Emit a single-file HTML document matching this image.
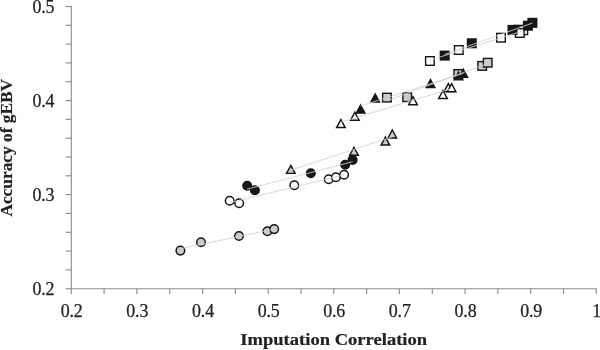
<!DOCTYPE html>
<html lang="en"><head><meta charset="utf-8"><title>Accuracy of gEBV vs Imputation Correlation</title>
<style>
html,body{margin:0;padding:0;background:#fff;}
body{width:600px;height:350px;overflow:hidden;}
svg{display:block;font-family:"Liberation Serif","DejaVu Serif",serif;}
.tick text{font-size:17.9px;letter-spacing:-0.15px;fill:#222;stroke:#222;stroke-width:0.25px;}
.title{font-size:16.1px;font-weight:bold;fill:#222;stroke:#222;stroke-width:0.2px;}
</style></head><body>
<svg width="600" height="350" viewBox="0 0 600 350">
<rect width="600" height="350" fill="#fff"/>
<g stroke="#8c8e93" stroke-width="1.15" fill="none">
<line x1="71.3" y1="5.9" x2="71.3" y2="288.7"/>
<line x1="71.3" y1="288.7" x2="596.8" y2="288.7"/>
<line x1="65.7" y1="288.7" x2="71.3" y2="288.7"/>
<line x1="65.7" y1="269.9" x2="71.3" y2="269.9"/>
<line x1="65.7" y1="251.1" x2="71.3" y2="251.1"/>
<line x1="65.7" y1="232.3" x2="71.3" y2="232.3"/>
<line x1="65.7" y1="213.4" x2="71.3" y2="213.4"/>
<line x1="65.7" y1="194.6" x2="71.3" y2="194.6"/>
<line x1="65.7" y1="175.8" x2="71.3" y2="175.8"/>
<line x1="65.7" y1="157.0" x2="71.3" y2="157.0"/>
<line x1="65.7" y1="138.2" x2="71.3" y2="138.2"/>
<line x1="65.7" y1="119.4" x2="71.3" y2="119.4"/>
<line x1="65.7" y1="100.6" x2="71.3" y2="100.6"/>
<line x1="65.7" y1="81.7" x2="71.3" y2="81.7"/>
<line x1="65.7" y1="62.9" x2="71.3" y2="62.9"/>
<line x1="65.7" y1="44.1" x2="71.3" y2="44.1"/>
<line x1="65.7" y1="25.3" x2="71.3" y2="25.3"/>
<line x1="65.7" y1="6.5" x2="71.3" y2="6.5"/>
<line x1="71.3" y1="288.7" x2="71.3" y2="294.0"/>
<line x1="104.1" y1="288.7" x2="104.1" y2="294.0"/>
<line x1="136.9" y1="288.7" x2="136.9" y2="294.0"/>
<line x1="169.7" y1="288.7" x2="169.7" y2="294.0"/>
<line x1="202.6" y1="288.7" x2="202.6" y2="294.0"/>
<line x1="235.4" y1="288.7" x2="235.4" y2="294.0"/>
<line x1="268.2" y1="288.7" x2="268.2" y2="294.0"/>
<line x1="301.0" y1="288.7" x2="301.0" y2="294.0"/>
<line x1="333.8" y1="288.7" x2="333.8" y2="294.0"/>
<line x1="366.6" y1="288.7" x2="366.6" y2="294.0"/>
<line x1="399.4" y1="288.7" x2="399.4" y2="294.0"/>
<line x1="432.3" y1="288.7" x2="432.3" y2="294.0"/>
<line x1="465.1" y1="288.7" x2="465.1" y2="294.0"/>
<line x1="497.9" y1="288.7" x2="497.9" y2="294.0"/>
<line x1="530.7" y1="288.7" x2="530.7" y2="294.0"/>
<line x1="563.5" y1="288.7" x2="563.5" y2="294.0"/>
<line x1="596.3" y1="288.7" x2="596.3" y2="294.0"/>
</g>
<g class="tick">
<text x="54.3" y="295.0" text-anchor="end">0.2</text>
<text x="54.3" y="200.9" text-anchor="end">0.3</text>
<text x="54.3" y="106.9" text-anchor="end">0.4</text>
<text x="54.3" y="12.8" text-anchor="end">0.5</text>
<text x="71.7" y="316.9" text-anchor="middle">0.2</text>
<text x="137.3" y="316.9" text-anchor="middle">0.3</text>
<text x="203.0" y="316.9" text-anchor="middle">0.4</text>
<text x="268.6" y="316.9" text-anchor="middle">0.5</text>
<text x="334.2" y="316.9" text-anchor="middle">0.6</text>
<text x="399.8" y="316.9" text-anchor="middle">0.7</text>
<text x="465.5" y="316.9" text-anchor="middle">0.8</text>
<text x="531.1" y="316.9" text-anchor="middle">0.9</text>
<text x="596.7" y="316.9" text-anchor="middle">1</text>
</g>
<text class="title" x="240.3" y="345.2" textLength="186.8" lengthAdjust="spacingAndGlyphs">Imputation Correlation</text>
<text class="title" transform="translate(12.4,216.6) rotate(-90)" textLength="137.7" lengthAdjust="spacingAndGlyphs">Accuracy of gEBV</text>
<rect x="382.6" y="93.3" width="8.6" height="8.6" fill="#cbcbcc" stroke="#151515" stroke-width="1.4"/>
<rect x="402.9" y="92.9" width="8.6" height="8.6" fill="#cbcbcc" stroke="#151515" stroke-width="1.4"/>
<rect x="454.0" y="69.7" width="8.6" height="8.6" fill="#cbcbcc" stroke="#151515" stroke-width="1.4"/>
<rect x="477.9" y="61.6" width="8.6" height="8.6" fill="#cbcbcc" stroke="#151515" stroke-width="1.4"/>
<rect x="483.4" y="58.4" width="8.6" height="8.6" fill="#cbcbcc" stroke="#151515" stroke-width="1.4"/>
<path d="M290.8 165.40 L295.1 173.35 L286.5 173.35 Z" fill="#cbcbcc" stroke="#151515" stroke-width="1.45" stroke-linejoin="miter"/>
<path d="M354.0 147.30 L358.3 155.25 L349.7 155.25 Z" fill="#cbcbcc" stroke="#151515" stroke-width="1.45" stroke-linejoin="miter"/>
<path d="M385.4 137.10 L389.7 145.05 L381.1 145.05 Z" fill="#cbcbcc" stroke="#151515" stroke-width="1.45" stroke-linejoin="miter"/>
<path d="M392.3 130.00 L396.6 137.95 L388.0 137.95 Z" fill="#cbcbcc" stroke="#151515" stroke-width="1.45" stroke-linejoin="miter"/>
<circle cx="180.4" cy="250.6" r="4.3" fill="#cbcbcc" stroke="#151515" stroke-width="1.5"/>
<circle cx="201.0" cy="242.2" r="4.3" fill="#cbcbcc" stroke="#151515" stroke-width="1.5"/>
<circle cx="239.0" cy="236.0" r="4.3" fill="#cbcbcc" stroke="#151515" stroke-width="1.5"/>
<circle cx="267.4" cy="231.3" r="4.3" fill="#cbcbcc" stroke="#151515" stroke-width="1.5"/>
<circle cx="274.2" cy="229.1" r="4.3" fill="#cbcbcc" stroke="#151515" stroke-width="1.5"/>
<rect x="514.3" y="25.4" width="8.6" height="8.6" fill="#171717" stroke="#151515" stroke-width="1.4"/>
<rect x="425.6" y="56.7" width="8.6" height="8.6" fill="#fff" stroke="#151515" stroke-width="1.4"/>
<rect x="454.5" y="45.7" width="8.6" height="8.6" fill="#fff" stroke="#151515" stroke-width="1.4"/>
<rect x="496.7" y="33.4" width="8.6" height="8.6" fill="#fff" stroke="#151515" stroke-width="1.4"/>
<rect x="519.0" y="26.0" width="8.6" height="8.6" fill="#fff" stroke="#151515" stroke-width="1.4"/>
<rect x="515.5" y="28.7" width="8.6" height="8.6" fill="#fff" stroke="#151515" stroke-width="1.4"/>
<path d="M340.9 119.60 L345.2 127.55 L336.6 127.55 Z" fill="#fff" stroke="#151515" stroke-width="1.45" stroke-linejoin="miter"/>
<path d="M354.8 112.30 L359.1 120.25 L350.5 120.25 Z" fill="#fff" stroke="#151515" stroke-width="1.45" stroke-linejoin="miter"/>
<path d="M413.0 96.70 L417.3 104.65 L408.7 104.65 Z" fill="#fff" stroke="#151515" stroke-width="1.45" stroke-linejoin="miter"/>
<path d="M443.0 90.50 L447.3 98.45 L438.7 98.45 Z" fill="#fff" stroke="#151515" stroke-width="1.45" stroke-linejoin="miter"/>
<path d="M448.4 83.60 L452.7 91.55 L444.1 91.55 Z" fill="#fff" stroke="#151515" stroke-width="1.45" stroke-linejoin="miter"/>
<path d="M451.6 83.70 L455.9 91.65 L447.3 91.65 Z" fill="#fff" stroke="#151515" stroke-width="1.45" stroke-linejoin="miter"/>
<circle cx="229.7" cy="200.7" r="4.3" fill="#fff" stroke="#151515" stroke-width="1.5"/>
<circle cx="239.2" cy="203.3" r="4.3" fill="#fff" stroke="#151515" stroke-width="1.5"/>
<circle cx="294.3" cy="185.3" r="4.3" fill="#fff" stroke="#151515" stroke-width="1.5"/>
<circle cx="328.7" cy="179.2" r="4.3" fill="#fff" stroke="#151515" stroke-width="1.5"/>
<circle cx="335.9" cy="177.3" r="4.3" fill="#fff" stroke="#151515" stroke-width="1.5"/>
<circle cx="344.1" cy="174.7" r="4.3" fill="#fff" stroke="#151515" stroke-width="1.5"/>
<rect x="440.4" y="51.3" width="8.6" height="8.6" fill="#171717" stroke="#151515" stroke-width="1.4"/>
<rect x="467.5" y="39.0" width="8.6" height="8.6" fill="#171717" stroke="#151515" stroke-width="1.4"/>
<rect x="508.2" y="25.6" width="8.6" height="8.6" fill="#171717" stroke="#151515" stroke-width="1.4"/>
<rect x="523.6" y="21.4" width="8.6" height="8.6" fill="#171717" stroke="#151515" stroke-width="1.4"/>
<rect x="528.1" y="18.5" width="8.6" height="8.6" fill="#171717" stroke="#151515" stroke-width="1.4"/>
<path d="M360.6 105.00 L364.9 112.95 L356.3 112.95 Z" fill="#171717" stroke="#151515" stroke-width="1.45" stroke-linejoin="miter"/>
<path d="M375.2 94.00 L379.5 101.95 L370.9 101.95 Z" fill="#171717" stroke="#151515" stroke-width="1.45" stroke-linejoin="miter"/>
<path d="M430.5 79.60 L434.8 87.55 L426.2 87.55 Z" fill="#171717" stroke="#151515" stroke-width="1.45" stroke-linejoin="miter"/>
<path d="M458.5 71.90 L462.8 79.85 L454.2 79.85 Z" fill="#171717" stroke="#151515" stroke-width="1.45" stroke-linejoin="miter"/>
<path d="M463.3 69.30 L467.6 77.25 L459.0 77.25 Z" fill="#171717" stroke="#151515" stroke-width="1.45" stroke-linejoin="miter"/>
<circle cx="247.2" cy="185.8" r="4.3" fill="#171717" stroke="#151515" stroke-width="1.5"/>
<circle cx="254.9" cy="190.2" r="4.3" fill="#171717" stroke="#151515" stroke-width="1.5"/>
<circle cx="310.8" cy="173.3" r="4.3" fill="#171717" stroke="#151515" stroke-width="1.5"/>
<circle cx="345.2" cy="164.8" r="4.3" fill="#171717" stroke="#151515" stroke-width="1.5"/>
<circle cx="352.6" cy="159.9" r="4.3" fill="#171717" stroke="#151515" stroke-width="1.5"/>
<line x1="386.9" y1="100.69" x2="487.7" y2="63.54" stroke="#d2d2d2" stroke-width="0.85"/>
<line x1="290.8" y1="170.12" x2="392.3" y2="136.82" stroke="#d2d2d2" stroke-width="0.85"/>
<line x1="180.4" y1="248.75" x2="274.2" y2="229.07" stroke="#d2d2d2" stroke-width="0.85"/>
<line x1="429.9" y1="60.22" x2="523.3" y2="30.84" stroke="#d2d2d2" stroke-width="0.85"/>
<line x1="340.9" y1="122.22" x2="451.6" y2="88.56" stroke="#d2d2d2" stroke-width="0.85"/>
<line x1="229.7" y1="202.72" x2="344.1" y2="174.88" stroke="#d2d2d2" stroke-width="0.85"/>
<line x1="444.7" y1="54.54" x2="532.4" y2="23.06" stroke="#d2d2d2" stroke-width="0.85"/>
<line x1="360.6" y1="105.93" x2="463.3" y2="73.38" stroke="#d2d2d2" stroke-width="0.85"/>
<line x1="247.2" y1="189.08" x2="352.6" y2="161.69" stroke="#d2d2d2" stroke-width="0.85"/>
</svg>
</body></html>
